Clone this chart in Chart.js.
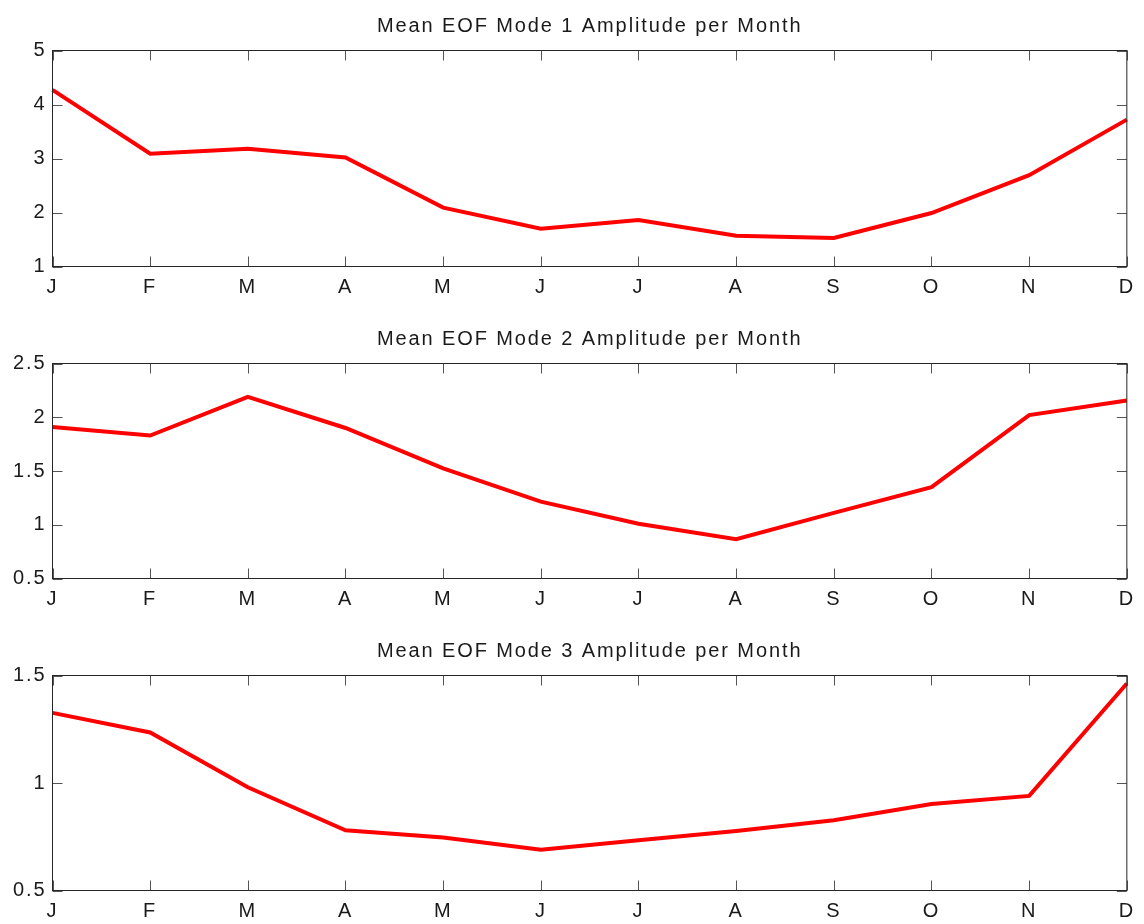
<!DOCTYPE html>
<html lang="en">
  <head>
    <meta charset="UTF-8" />
    <title>Mean EOF Mode Amplitudes</title>
    <script src="https://cdn.jsdelivr.net/npm/chart.js@4.4.1/dist/chart.umd.min.js"></script>
    <style>
      html, body { margin: 0; padding: 0; background: #fff; overflow: hidden; }
      body { width: 1144px; height: 924px; position: relative; }
      canvas { position: absolute; left: 0; }
    </style>
  </head>
  <body>
    <canvas id="mode1" width="1144" height="305" style="top:0px"></canvas>
    <canvas id="mode2" width="1144" height="304" style="top:313px"></canvas>
    <canvas id="mode3" width="1144" height="304" style="top:625px"></canvas>

    <script>
      const months = ["J", "F", "M", "A", "M", "J", "J", "A", "S", "O", "N", "D"];

      const mode1 = [4.27, 3.09, 3.18, 3.02, 2.09, 1.70, 1.86, 1.57, 1.53, 1.99, 2.69, 3.72];
      const mode2 = [1.91, 1.83, 2.19, 1.90, 1.525, 1.215, 1.01, 0.865, 1.11, 1.35, 2.02, 2.155];
      const mode3 = [1.326, 1.235, 0.98, 0.78, 0.746, 0.69, 0.734, 0.777, 0.827, 0.902, 0.94, 1.463];

      const titles = [
        "Mean EOF Mode 1 Amplitude per Month",
        "Mean EOF Mode 2 Amplitude per Month",
        "Mean EOF Mode 3 Amplitude per Month"
      ];
      const yMin = [1, 0.5, 0.5];
      const yMax = [5, 2.5, 1.5];
      const yStep = [1, 0.5, 0.5];

      const FONT = "'Liberation Sans', Arial, Helvetica, sans-serif";

      // spaced-out lettering like the old plot toolkit
      const spacing = {
        id: "spacing",
        beforeLayout(chart) { chart.ctx.letterSpacing = "1.9px"; },
        beforeDraw(chart) { chart.ctx.letterSpacing = "1.9px"; }
      };

      // closed box with inward ticks on all four sides
      const axesBox = {
        id: "axesBox",
        afterDraw(chart) {
          const { ctx, chartArea: a, scales } = chart;
          ctx.save();
          ctx.strokeStyle = "#555";
          ctx.lineWidth = 1;
          ctx.beginPath();
          scales.x.ticks.forEach((t, i) => {
            const px = Math.round(scales.x.getPixelForTick(i)) + 0.5;
            ctx.moveTo(px, a.bottom);
            ctx.lineTo(px, a.bottom - 10);
            ctx.moveTo(px, a.top);
            ctx.lineTo(px, a.top + 10);
          });
          scales.y.ticks.forEach((t, i) => {
            const py = Math.round(scales.y.getPixelForTick(i)) + 0.5;
            ctx.moveTo(a.left, py);
            ctx.lineTo(a.left + 10, py);
            ctx.moveTo(a.right, py);
            ctx.lineTo(a.right - 10, py);
          });
          ctx.stroke();
          ctx.strokeStyle = "#262626";
          ctx.strokeRect(a.left, a.top, a.right - a.left, a.bottom - a.top);
          ctx.restore();
        }
      };

      function drawMode(id, values, k) {
        new Chart(document.getElementById(id), {
          type: "line",
          data: {
            labels: months,
            datasets: [
              {
                data: values,
                borderColor: "#ff0000",
                borderWidth: 4,
                pointRadius: 0,
                tension: 0,
                clip: false
              }
            ]
          },
          options: {
            responsive: false,
            animation: false,
            layout: { padding: { left: 0, right: 14.5, top: 0, bottom: 0 } },
            plugins: {
              legend: { display: false },
              tooltip: { enabled: false },
              title: {
                display: true,
                fullSize: false,
                text: titles[k],
                color: "#1a1a1a",
                font: { family: FONT, size: 20, weight: "normal", lineHeight: 1.2 },
                padding: { top: 14, bottom: 12.5 }
              }
            },
            scales: {
              x: {
                grid: { display: false, drawTicks: false },
                border: { display: false },
                ticks: {
                  color: "#1a1a1a",
                  font: { family: FONT, size: 20 },
                  padding: 9,
                  maxRotation: 0,
                  autoSkip: false
                },
                afterFit(scale) { scale.height = 38.5; }
              },
              y: {
                min: yMin[k],
                max: yMax[k],
                grid: { display: false, drawTicks: false },
                border: { display: false },
                ticks: {
                  stepSize: yStep[k],
                  color: "#1a1a1a",
                  font: { family: FONT, size: 20 },
                  padding: 6,
                  callback: (v) => String(Math.round(v * 10) / 10)
                },
                afterFit(scale) { scale.width = 52.5; }
              }
            }
          },
          plugins: [spacing, axesBox]
        });
      }

      drawMode("mode1", mode1, 0);
      drawMode("mode2", mode2, 1);
      drawMode("mode3", mode3, 2);
    </script>
  </body>
</html>
